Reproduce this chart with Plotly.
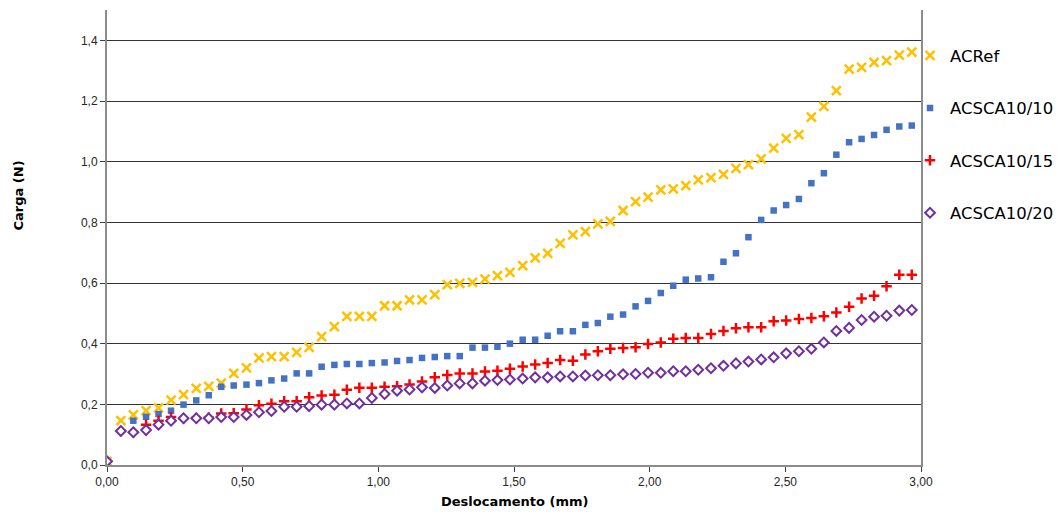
import plotly.graph_objects as go

# Deslocamento (mm) shared by all series
deslocamento = [
    0.000, 0.051, 0.097, 0.144, 0.190, 0.236, 0.282, 0.329, 0.375, 0.421, 0.467,
    0.514, 0.560, 0.606, 0.653, 0.699, 0.745, 0.791, 0.838, 0.884, 0.930,
    0.976, 1.023, 1.069, 1.115, 1.161, 1.208, 1.254, 1.300, 1.347, 1.393,
    1.439, 1.485, 1.532, 1.578, 1.624, 1.670, 1.717, 1.763, 1.809, 1.855,
    1.902, 1.948, 1.994, 2.041, 2.087, 2.133, 2.179, 2.226, 2.272, 2.318,
    2.364, 2.411, 2.457, 2.503, 2.550, 2.596, 2.642, 2.688, 2.735, 2.781,
    2.827, 2.873, 2.920, 2.966,
]

# Carga (N)
acref = [
    0.012, 0.146, 0.165, 0.179, 0.188, 0.214, 0.232, 0.253, 0.259, 0.270, 0.302,
    0.320, 0.353, 0.357, 0.357, 0.371, 0.388, 0.423, 0.456, 0.490, 0.490,
    0.490, 0.525, 0.525, 0.544, 0.544, 0.562, 0.595, 0.599, 0.602, 0.613,
    0.624, 0.635, 0.657, 0.683, 0.698, 0.731, 0.759, 0.769, 0.795, 0.803,
    0.839, 0.868, 0.883, 0.907, 0.910, 0.921, 0.940, 0.947, 0.958, 0.978,
    0.990, 1.009, 1.045, 1.077, 1.089, 1.147, 1.182, 1.234, 1.305, 1.311,
    1.327, 1.333, 1.351, 1.361,
]

acsca10_10 = [
    0.012, 0.112, 0.146, 0.159, 0.168, 0.179, 0.199, 0.213, 0.230, 0.258, 0.262,
    0.265, 0.270, 0.279, 0.285, 0.302, 0.302, 0.324, 0.330, 0.333, 0.333,
    0.336, 0.338, 0.343, 0.346, 0.353, 0.356, 0.359, 0.359, 0.387, 0.387,
    0.390, 0.400, 0.413, 0.413, 0.426, 0.441, 0.441, 0.462, 0.468, 0.489,
    0.496, 0.523, 0.541, 0.567, 0.591, 0.611, 0.615, 0.619, 0.670, 0.698,
    0.751, 0.808, 0.839, 0.857, 0.877, 0.929, 0.962, 1.023, 1.064, 1.075,
    1.088, 1.105, 1.116, 1.119,
]

acsca10_15 = [
    0.012, 0.112, 0.108, 0.133, 0.146, 0.158, 0.154, 0.155, 0.156, 0.170, 0.171,
    0.183, 0.197, 0.202, 0.210, 0.210, 0.223, 0.229, 0.232, 0.248, 0.255,
    0.255, 0.258, 0.260, 0.265, 0.275, 0.289, 0.297, 0.302, 0.302, 0.308,
    0.311, 0.317, 0.325, 0.331, 0.336, 0.346, 0.344, 0.364, 0.375, 0.383,
    0.386, 0.388, 0.399, 0.404, 0.416, 0.419, 0.419, 0.432, 0.442, 0.451,
    0.454, 0.454, 0.474, 0.476, 0.481, 0.485, 0.490, 0.503, 0.522, 0.549,
    0.558, 0.589, 0.627, 0.627,
]

acsca10_20 = [
    0.012, 0.112, 0.108, 0.115, 0.133, 0.146, 0.154, 0.154, 0.154, 0.158, 0.158,
    0.165, 0.174, 0.178, 0.192, 0.192, 0.194, 0.199, 0.199, 0.203, 0.203,
    0.221, 0.234, 0.245, 0.249, 0.256, 0.254, 0.262, 0.269, 0.269, 0.278,
    0.280, 0.282, 0.285, 0.289, 0.289, 0.292, 0.292, 0.295, 0.296, 0.296,
    0.299, 0.300, 0.304, 0.304, 0.309, 0.309, 0.314, 0.319, 0.327, 0.335,
    0.341, 0.348, 0.355, 0.368, 0.375, 0.383, 0.404, 0.442, 0.452, 0.478,
    0.489, 0.492, 0.509, 0.511,
]

series_names = ["ACRef", "ACSCA10/10", "ACSCA10/15", "ACSCA10/20"]
series_values = [acref, acsca10_10, acsca10_15, acsca10_20]

markers = [
    dict(symbol="x-thin", size=9, color="#FFC000", line=dict(color="#FFC000", width=2.5)),
    dict(symbol="square", size=6.5, color="#4472C4", line=dict(width=0)),
    dict(symbol="cross-thin", size=7.5, color="#FF0000", line=dict(color="#FF0000", width=2.5)),
    dict(symbol="diamond", size=7.5, color="white", line=dict(color="#7030A0", width=2)),
]

fig = go.Figure()
for name, vals, mk in zip(series_names, series_values, markers):
    fig.add_trace(go.Scatter(
        x=deslocamento, y=vals, name=name, mode="markers",
        marker=mk, legendgroup=name,
    ))

tick_font = dict(family="Liberation Sans, Arial, sans-serif", size=12, color="#262626")
title_font = dict(family="DejaVu Sans, Verdana, sans-serif", size=13, color="black")

fig.update_layout(
    width=1063, height=515,
    margin=dict(l=107, r=142, t=10, b=50, autoexpand=False),
    paper_bgcolor="white", plot_bgcolor="white",
    separators=", ",
    showlegend=True,
    legend=dict(
        x=0.9865, xanchor="left", y=0.938, yanchor="top",
        font=dict(family="DejaVu Sans, Verdana, sans-serif", size=16.5, color="black"),
        tracegroupgap=28, bgcolor="rgba(0,0,0,0)",
    ),
    xaxis=dict(
        range=[0, 3], tickvals=[0, 0.5, 1.0, 1.5, 2.0, 2.5, 3.0], tickformat=".2f",
        showgrid=False, zeroline=False,
        showline=True, linecolor="#8c8c8c", linewidth=2,
        ticks="outside", ticklen=5, tickcolor="#404040", tickwidth=1,
        tickfont=tick_font,
    ),
    yaxis=dict(
        range=[0, 1.5], tickvals=[0, 0.2, 0.4, 0.6, 0.8, 1.0, 1.2, 1.4], tickformat=".1f",
        showgrid=True, gridcolor="#333333", gridwidth=1, zeroline=False,
        showline=True, linecolor="#8c8c8c", linewidth=2, mirror=True,
        ticks="outside", ticklen=5, tickcolor="#404040", tickwidth=1,
        tickfont=tick_font,
    ),
    annotations=[
        dict(text="<b>Deslocamento (mm)</b>", xref="paper", yref="paper",
             x=0.501, y=-0.081, xanchor="center", yanchor="middle",
             showarrow=False, font=title_font),
        dict(text="<b>Carga (N)</b>", xref="paper", yref="paper",
             x=-0.109, y=0.593, xanchor="center", yanchor="middle",
             textangle=-90, showarrow=False, font=title_font),
    ],
)

fig.write_html("out.html")
